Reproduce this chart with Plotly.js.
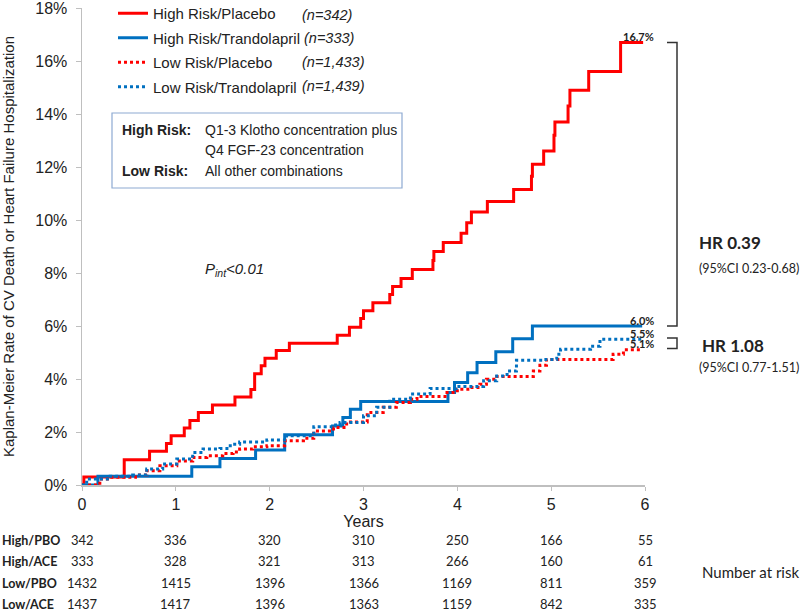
<!DOCTYPE html>
<html>
<head>
<meta charset="utf-8">
<script src="https://cdn.plot.ly/plotly-3.0.1.min.js"></script>
<style>
  body { margin: 0; background: #fff; }
  #plot { width: 800px; height: 611px; }
</style>
</head>
<body>
<div id="plot"></div>
<script>
// KM curves, years vs percent
var hrpYears = [0, 0.02, 0.45, 0.72, 0.90, 0.95, 1.09, 1.15, 1.24, 1.39, 1.63, 1.80, 1.84, 1.91, 1.95, 2.07, 2.21, 2.72, 2.85, 2.97, 3.00, 3.10, 3.28, 3.31, 3.40, 3.52, 3.74, 3.75, 3.85, 4.04, 4.10, 4.15, 4.32, 4.60, 4.79, 4.80, 4.92, 5.03, 5.04, 5.18, 5.20, 5.40, 5.74, 5.98];
var hrpRate = [0, 0.3, 0.95, 1.27, 1.57, 1.86, 2.15, 2.43, 2.74, 3.02, 3.32, 3.6, 4.2, 4.5, 4.78, 5.08, 5.35, 5.65, 5.95, 6.28, 6.58, 6.88, 7.19, 7.49, 7.79, 8.13, 8.47, 8.81, 9.15, 9.5, 9.9, 10.3, 10.7, 11.15, 11.65, 12.1, 12.6, 13.2, 13.7, 14.3, 14.9, 15.6, 16.7, 16.7];

var hrtYears = [0, 0.17, 1.17, 1.47, 1.85, 2.16, 2.67, 2.78, 2.86, 2.97, 3.90, 3.97, 4.11, 4.21, 4.41, 4.59, 4.80, 5.97];
var hrtRate = [0, 0.33, 0.69, 1.0, 1.32, 1.9, 2.23, 2.55, 2.86, 3.15, 3.49, 3.87, 4.24, 4.62, 5.03, 5.52, 6.0, 6.0];

var lrpYears = [0, 0.19, 0.27, 0.57, 0.69, 0.83, 1.01, 1.18, 1.33, 1.5, 1.61, 1.68, 1.82, 1.97, 2.16, 2.36, 2.47, 2.68, 2.82, 3.04, 3.21, 3.35, 3.5, 3.57, 3.89, 4.0, 4.14, 4.24, 4.31, 4.42, 4.81, 4.88, 4.95, 5.66, 5.77, 5.97];
var lrpRate = [0, 0.23, 0.29, 0.38, 0.54, 0.73, 0.91, 1.04, 1.1, 1.19, 1.25, 1.36, 1.44, 1.48, 1.67, 1.76, 2.04, 2.17, 2.38, 2.74, 2.93, 3.11, 3.24, 3.34, 3.49, 3.61, 3.68, 3.8, 3.99, 4.09, 4.3, 4.52, 4.74, 4.93, 5.1, 5.1];

var lrtYears = [0, 0.05, 0.3, 0.54, 0.69, 0.86, 1.01, 1.18, 1.29, 1.47, 1.58, 1.68, 1.97, 2.18, 2.47, 2.68, 2.75, 3.0, 3.14, 3.28, 3.5, 3.71, 3.99, 4.28, 4.42, 4.53, 4.63, 4.92, 5.06, 5.1, 5.42, 5.52, 5.97];
var lrtRate = [0, 0.23, 0.33, 0.38, 0.6, 0.79, 0.98, 1.23, 1.36, 1.38, 1.54, 1.62, 1.70, 1.86, 2.2, 2.26, 2.36, 2.61, 2.93, 3.24, 3.43, 3.64, 3.72, 3.93, 4.11, 4.3, 4.71, 4.74, 4.93, 5.12, 5.24, 5.5, 5.5];

var seriesNames = ["High Risk/Placebo", "High Risk/Trandolapril", "Low Risk/Placebo", "Low Risk/Trandolapril"];
var seriesN = ["(n=342)", "(n=333)", "(n=1,433)", "(n=1,439)"];

// number at risk
var riskYears = [0, 1, 2, 3, 4, 5, 6];
var riskLabels = ["High/PBO", "High/ACE", "Low/PBO", "Low/ACE"];
var hiPbo = [342, 336, 320, 310, 250, 166, 55];
var hiAce = [333, 328, 321, 313, 266, 160, 61];
var loPbo = [1432, 1415, 1396, 1366, 1169, 811, 359];
var loAce = [1437, 1417, 1396, 1363, 1159, 842, 335];

var RED = "#ff0000", BLUE = "#0070c0";
var calibri = "Lato, 'Open Sans', sans-serif";
var arial = "'Liberation Sans', Arial, sans-serif";

// plot area in page pixels
var L = 82, R = 645, T = 8, B = 485;
function px(x) { return (x - L) / (R - L); }
function py(y) { return (B - y) / (B - T); }
function last(a) { return a[a.length - 1]; }

function kmTrace(x, y, name, color, dash) {
  return {
    x: x, y: y, name: name, type: "scatter", mode: "lines",
    line: { color: color, width: 3, shape: "hv", dash: dash },
    legendgroup: name
  };
}

var traces = [
  kmTrace(hrpYears, hrpRate, seriesNames[0], RED, "solid"),
  kmTrace(hrtYears, hrtRate, seriesNames[1], BLUE, "solid"),
  kmTrace(lrpYears, lrpRate, seriesNames[2], RED, "dot"),
  kmTrace(lrtYears, lrtRate, seriesNames[3], BLUE, "dot")
];

var ann = [];
var shapes = [];

// n= labels next to legend
var nRowY = [15, 38, 62, 86];
var nRowX = [300, 302, 300, 300];
for (var i = 0; i < seriesN.length; i++) {
  ann.push({ xref: "paper", yref: "paper", x: px(nRowX[i]), y: py(nRowY[i]),
    xanchor: "left", yanchor: "middle", showarrow: false, text: "<i>" + seriesN[i] + "</i>",
    font: { family: arial, size: 14.5, color: "#222" } });
}

// definition box
shapes.push({ type: "rect", xref: "paper", yref: "paper",
  x0: px(112), x1: px(402), y0: py(188), y1: py(113),
  line: { color: "#8eaad2", width: 1.2 }, fillcolor: "rgba(0,0,0,0)" });
var boxRows = [
  ["<b>High Risk:</b>", "Q1-3 Klotho concentration plus", 130],
  ["", "Q4 FGF-23 concentration", 150],
  ["<b>Low Risk:</b>", "All other combinations", 171]
];
boxRows.forEach(function (r) {
  if (r[0]) ann.push({ xref: "paper", yref: "paper", x: px(120), y: py(r[2]),
    xanchor: "left", yanchor: "middle", showarrow: false, text: r[0], font: { family: arial, size: 14, color: "#222" } });
  ann.push({ xref: "paper", yref: "paper", x: px(203), y: py(r[2]),
    xanchor: "left", yanchor: "middle", showarrow: false, text: r[1], font: { family: arial, size: 14, color: "#222" } });
});

// P interaction
ann.push({ xref: "paper", yref: "paper", x: px(203), y: py(269),
  xanchor: "left", yanchor: "middle", showarrow: false,
  text: "<i>P<sub>int</sub>&lt;0.01</i>", font: { family: arial, size: 15, color: "#222" } });

// end-of-curve labels
var ends = [
  [last(hrpRate), "16.7%"],
  [last(hrtRate), "6.0%"],
  [last(lrtRate), "5.5%"],
  [last(lrpRate), "5.1%"]
];
ends.forEach(function (e) {
  ann.push({ xref: "paper", yref: "y", x: px(656), y: e[0], yshift: 6,
    xanchor: "right", yanchor: "middle", showarrow: false, text: "<b>" + e[1] + "</b>",
    font: { family: calibri, size: 11, color: "#222" } });
});

// HR brackets
function bracket(top, bot) {
  var xa = px(667), xb = px(677);
  shapes.push({ type: "path", xref: "paper", yref: "y",
    path: "M" + xa + "," + top + " L" + xb + "," + top + " L" + xb + "," + bot + " L" + xa + "," + bot,
    line: { color: "#333", width: 1.5 } });
}
bracket(last(hrpRate), last(hrtRate));
bracket(last(lrtRate) + 0.05, last(lrpRate) + 0.05);

var hrText = [
  ["<b>HR 0.39</b>", 242, 17, 697],
  ["(95%CI 0.23-0.68)", 268, 12.5, 697],
  ["<b>HR 1.08</b>", 345, 17, 700],
  ["(95%CI 0.77-1.51)", 367, 12.5, 697]
];
hrText.forEach(function (h) {
  ann.push({ xref: "paper", yref: "paper", x: px(h[3]), y: py(h[1]),
    xanchor: "left", yanchor: "middle", showarrow: false, text: h[0],
    font: { family: calibri, size: h[2], color: "#222" } });
});

// number at risk table
var riskRows = [hiPbo, hiAce, loPbo, loAce];
var rowY = [540, 561, 583, 604];
riskRows.forEach(function (row, r) {
  ann.push({ xref: "paper", yref: "paper", x: px(0), y: py(rowY[r]),
    xanchor: "left", yanchor: "middle", showarrow: false, text: "<b>" + riskLabels[r] + "</b>",
    font: { family: calibri, size: 12.5, color: "#222" } });
  row.forEach(function (v, c) {
    ann.push({ xref: "x", yref: "paper", x: riskYears[c], y: py(rowY[r]),
      xanchor: "center", yanchor: "middle", showarrow: false, text: String(v),
      font: { family: calibri, size: 13, color: "#222" } });
  });
});
ann.push({ xref: "paper", yref: "paper", x: px(700), y: py(572),
  xanchor: "left", yanchor: "middle", showarrow: false, text: "Number at risk",
  font: { family: calibri, size: 15, color: "#222" } });

var layout = {
  width: 800, height: 611,
  margin: { l: L, r: 800 - R, t: T, b: 611 - B, autoexpand: false },
  paper_bgcolor: "#fff", plot_bgcolor: "#fff",
  font: { family: arial, color: "#222" },
  showlegend: true,
  legend: {
    x: px(113), y: py(-3), xanchor: "left", yanchor: "top",
    bgcolor: "rgba(0,0,0,0)", font: { family: arial, size: 15, color: "#222" },
    tracegroupgap: 2
  },
  xaxis: {
    range: [0, 6], tickvals: riskYears, showgrid: false, zeroline: false,
    showline: true, linecolor: "#bfbfbf", linewidth: 1.5,
    ticks: "outside", ticklen: 4, tickcolor: "#bfbfbf",
    tickfont: { family: arial, size: 16, color: "#222" },
    title: { text: "Years", font: { family: arial, size: 16, color: "#222" }, standoff: 4 }
  },
  yaxis: {
    range: [0, 18], dtick: 2, ticksuffix: "%", showgrid: false, zeroline: false,
    showline: true, linecolor: "#bfbfbf", linewidth: 1.5,
    ticks: "outside", ticklen: 5, tickcolor: "#bfbfbf", ticklabelstandoff: 5,
    ticklabeloverflow: "allow",
    tickfont: { family: arial, size: 16, color: "#222" },
    title: { text: "Kaplan-Meier Rate of CV Death or Heart Failure Hospitalization",
      font: { family: arial, size: 15, color: "#222" }, standoff: 26 }
  },
  annotations: ann,
  shapes: shapes
};

Plotly.newPlot("plot", traces, layout, { displayModeBar: false, staticPlot: true });
</script>
</body>
</html>
